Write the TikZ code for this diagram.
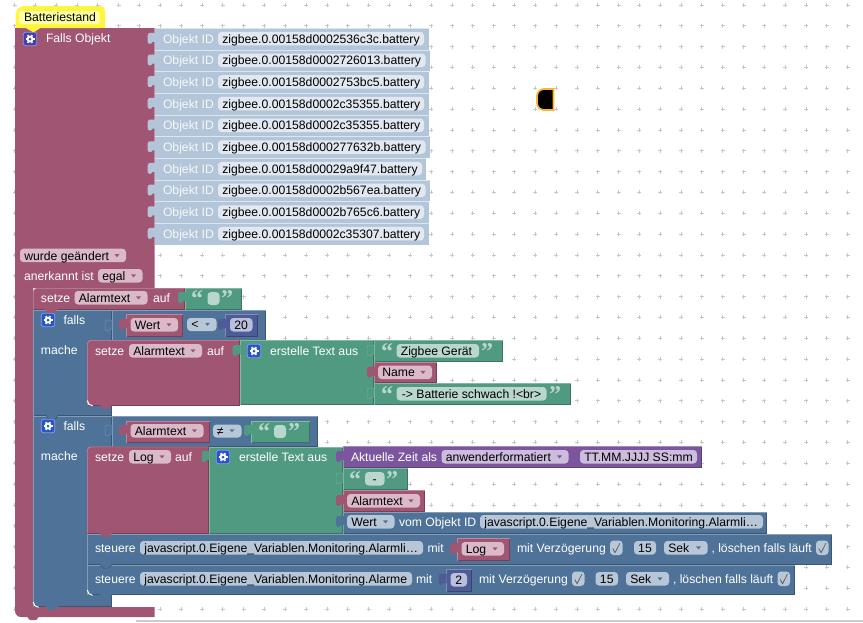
\documentclass[tikz,border=0pt]{standalone}
\usepackage{fontspec}
\setmainfont{Liberation Sans}
\newfontfamily\qfont{Liberation Serif}[BoldFont={* Bold}]
\definecolor{mg}{HTML}{A05573}
\definecolor{mgf}{HTML}{DABAC8}
\definecolor{bl}{HTML}{4F7398}
\definecolor{blf}{HTML}{B8C7D8}
\definecolor{gr}{HTML}{4F9A80}
\definecolor{grf}{HTML}{B9D7CC}
\definecolor{pu}{HTML}{7B569F}
\definecolor{puf}{HTML}{CBBDDB}
\definecolor{nv}{HTML}{4D5C97}
\definecolor{nvf}{HTML}{B9BFDC}
\definecolor{ob}{HTML}{B3C6D9}
\definecolor{obf}{HTML}{E1E8F0}
\definecolor{gearb}{HTML}{2A55C8}
\definecolor{gearp}{HTML}{4440B0}
\definecolor{yel}{HTML}{FFF53C}
\definecolor{yelf}{HTML}{FFFFA6}
\definecolor{stray}{HTML}{FCB731}
\newcommand{\fs}{\fontsize{12.2}{14}\selectfont}
% block: colour x1 y1 x2 y2
\newcommand{\blk}[5]{%
  \fill[#1] (#2,#3) rectangle (#4,#5);
  \draw[#1!75!black,line width=.7pt] (#4-.35,#3) -- (#4-.35,#5-.35) -- (#2,#5-.35);
  \draw[#1!70!white,line width=.7pt] (#2+.35,#5) -- (#2+.35,#3+.35) -- (#4,#3+.35);}
% statement block with rounded top-left corner
\newcommand{\stm}[5]{%
  \fill[#1] (#2,#5) -- (#2,#3+4) arc[start angle=180,end angle=270,radius=4] -- (#4,#3) -- (#4,#5) -- cycle;
  \draw[#1!75!black,line width=.7pt] (#4-.35,#3) -- (#4-.35,#5-.35) -- (#2,#5-.35);
  \draw[#1!70!white,line width=.7pt] (#2+.35,#5) -- (#2+.35,#3+4) arc[start angle=180,end angle=270,radius=3.65] -- (#4,#3+.35);}
\newcommand{\lbl}[3]{\node[txt,white,anchor=base west] at (#1,#2+4.3) {#3};}
\newcommand{\fld}[5]{%
  \fill[#1,rounded corners=3.5pt] (#2,#4-7) rectangle (#3,#4+6.5);
  \node[txt,black,anchor=base west] at (#2+4.3,#4+4.3) {#5};}
\newcommand{\cfld}[5]{%
  \fill[#1,rounded corners=3.5pt] (#2,#4-7) rectangle (#3,#4+6.5);
  \node[txt,black,anchor=base] at ({(#2+#3)/2},#4+4.3) {#5};}
\newcommand{\ddf}[6]{%
  \fld{#1}{#3}{#4}{#5}{#6}
  \fill[#2] (#4-11.5,#5-1.6) -- (#4-6.5,#5-1.6) -- (#4-9,#5+1.4) -- cycle;}
\newcommand{\tabn}[3]{%
  \fill[#1] (#2+1,#3-6) -- (#2-1.5,#3-6) .. controls (#2-3,#3-6.5) and (#2-7,#3-6.5) .. (#2-7,#3-3)
    -- (#2-7,#3+2) .. controls (#2-7,#3+5.5) and (#2-3,#3+6) .. (#2-2,#3+3) -- (#2+1,#3+3) -- cycle;}
\newcommand{\tabo}[3]{%
  \draw[#1!80!white,line width=.5pt,fill=#1] (#2,#3-6) -- (#2-1.5,#3-6) .. controls (#2-3,#3-6.5) and (#2-7,#3-6.5) .. (#2-7,#3-3)
    -- (#2-7,#3+2) .. controls (#2-7,#3+5.5) and (#2-3,#3+6) .. (#2-2,#3+3) -- (#2,#3+3);}
\newcommand{\nub}[3]{%
  \fill[#1] (#2-7,#3-.7) .. controls (#2-5,#3-.7) and (#2-5,#3+3.5) .. (#2-2.5,#3+3.5) -- (#2+2.5,#3+3.5) .. controls (#2+5,#3+3.5) and (#2+5,#3-.7) .. (#2+7,#3-.7) -- cycle;}
\newcommand{\nubl}[3]{%
  \draw[#1!75!black,line width=.5pt,fill=#1] (#2-7,#3-.7) .. controls (#2-5,#3-.7) and (#2-5,#3+3.5) .. (#2-2.5,#3+3.5) -- (#2+2.5,#3+3.5) .. controls (#2+5,#3+3.5) and (#2+5,#3-.7) .. (#2+7,#3-.7);}
\newcommand{\gearic}[4][gearb]{%
  \draw[#2!55!white,line width=.7pt,fill=#1,rounded corners=2.5pt] (#3-6.8,#4-6.8) rectangle (#3+6.8,#4+6.8);
  \foreach \a in {0,60,...,300} {\draw[white,line width=1.5pt] (#3,#4) ++(\a:2.5) -- ++(\a:2);}
  \fill[white] (#3,#4) circle[radius=3.5];
  \fill[#1] (#3,#4) circle[radius=1.5];}
\newcommand{\chk}[2]{%
  \fill[blf,rounded corners=3.5pt] (#1,#2-7.5) rectangle (#1+12.5,#2+7);
  \draw[black!70,line width=.6pt] (#1+2.8,#2+.5) -- (#1+5,#2+4.8) -- (#1+10,#2-5);}
\newcommand{\qo}[3]{\node[qt,#1,anchor=base west] at (#2,#3+8.5) {“};}
\newcommand{\qc}[3]{\node[qt,#1,anchor=base west] at (#2,#3+8.5) {”};}
\newcommand{\innr}[2]{\draw[white,line width=1pt] (#1+.3,#2-5) arc[start angle=180,end angle=90,radius=5.3];}
\tikzset{
  txt/.style={inner sep=0pt,outer sep=0pt,font=\fs},
  qt/.style={inner sep=0pt,outer sep=0pt,font=\qfont\bfseries\fontsize{24}{24}\selectfont},
  gridmark/.style={draw=black!22,line width=.8pt}
}
\begin{document}
\begin{tikzpicture}[x=1pt,y=-1pt]
\useasboundingbox (0,0) rectangle (863,622);
\fill[white] (0,0) rectangle (863,622);
% grid
\foreach \i in {0,...,41} \foreach \j in {0,...,29} {
  \draw[gridmark] ({14.5+20.83*\i-2},{5+20.83*\j}) -- ++(4,0) ({14.5+20.83*\i},{5+20.83*\j-2}) -- ++(0,4);
}
\fill[black!20] (136,620) rectangle (863,622);
% main block
\fill[mg] (15,28) -- (154.5,28) -- (154.5,288) -- (33,288) -- (33,607) -- (154.5,607) -- (154.5,617) -- (21,617) arc[start angle=90,end angle=180,radius=6] -- cycle;
\nub{mg}{33}{616.5}
% hat
\fill[yel,rounded corners=5pt] (15.5,28) -- (15.5,12) -- (20,6) -- (105,6) -- (105,28) -- cycle;
\fill[yel] (15.5,24) rectangle (105,28);
\fill[yel] (25,27.5) -- (41,27.5) -- (33.5,32.5) -- cycle;
\fill[yelf,rounded corners=3pt] (19,11) rectangle (100,24);
\node[txt,black,anchor=base west] at (24,21.6) {Batteriestand};
\gearic[gearp]{gearp}{30}{39}
\lbl{46}{38.5}{Falls Objekt}
% object rows
\foreach \k/\xr/\xf/\t in {%
 0/429/424/zigbee.0.00158d0002536c3c.battery,
 1/430/425.5/zigbee.0.00158d0002726013.battery,
 2/429/424/zigbee.0.00158d0002753bc5.battery,
 3/429/424/zigbee.0.00158d0002c35355.battery,
 4/429/424/zigbee.0.00158d0002c35355.battery,
 5/430/425.5/zigbee.0.00158d000277632b.battery,
 6/426/422/zigbee.0.00158d00029a9f47.battery,
 7/430/425.5/zigbee.0.00158d0002b567ea.battery,
 8/429/424/zigbee.0.00158d0002b765c6.battery,
 9/429/424/zigbee.0.00158d0002c35307.battery} {
  \pgfmathsetmacro{\yt}{28+21.67*\k}
  \pgfmathsetmacro{\yb}{\yt+21.67}
  \pgfmathsetmacro{\yc}{\yt+10.9}
  \fill[ob] (154.5,\yt) rectangle (\xr,\yb);
  \draw[white!55!ob,line width=.6pt] (154.5,\yt+.3) -- (\xr,\yt+.3);
  \tabn{ob}{154.5}{\yc}
  \node[txt,white!88!ob,anchor=base west] at (163,\yc+4.3) {Objekt ID};
  \fill[obf,rounded corners=3.5pt] (218,\yc-7) rectangle (\xf,\yc+6.5);
  \node[txt,black,anchor=base west] at (222.3,\yc+4.3) {\t};
}
% triggers
\ddf{mgf}{mg}{20}{126}{255.7}{wurde geändert}
\lbl{24}{276}{anerkannt ist}
\ddf{mgf}{mg}{98}{142.5}{276}{egal}
% setze Alarmtext (first)
\stm{mg}{33}{288}{185}{310}
\lbl{41}{298}{setze}
\ddf{mgf}{mg}{74.5}{147.5}{298}{Alarmtext}
\lbl{153}{298}{auf}
\blk{gr}{185}{288}{242}{310}
\tabn{gr}{185}{298}
\qo{grf}{191}{298}
\fill[grf,rounded corners=3.5pt] (207.5,292) rectangle (219.5,305);
\qc{grf}{221}{298}
% falls 1
\blk{bl}{33}{310}{112}{415.5}
\nub{mg}{51}{309.7}
\gearic{gearb}{48}{320}
\lbl{63.5}{320}{falls}
\lbl{41}{350}{mache}
\blk{bl}{112}{310}{266}{340.5}
\tabo{bl}{112}{326}
\blk{mg}{126}{314}{183}{336.5}
\tabn{mg}{126}{325}
\ddf{mgf}{mg}{130.5}{178}{325}{Wert}
\fill[blf,rounded corners=3.5pt] (187,318) rectangle (216.5,331);
\node[txt,black,anchor=base] at (195,328.6) {<};
\fill[bl] (205,322.8) -- (210,322.8) -- (207.5,325.8) -- cycle;
\blk{nv}{225}{314}{257.5}{336.5}
\tabn{nv}{225}{325}
\cfld{nvf}{230}{252.5}{325}{20}
% setze Alarmtext 2
\stm{mg}{87}{340}{239.5}{405.5}
\innr{87}{405.5}
\nub{mg}{106}{405}
\lbl{95}{351}{setze}
\ddf{mgf}{mg}{129}{202}{351}{Alarmtext}
\lbl{207}{351}{auf}
\blk{gr}{239.5}{340}{374}{404.5}
\tabn{gr}{239.5}{351}
\gearic{gearb}{254}{351}
\lbl{270}{351}{erstelle Text aus}
\blk{gr}{374}{340}{503}{362}
\tabo{gr}{374}{351}
\qo{grf}{381}{351}
\fld{grf}{396.5}{479}{351}{Zigbee Gerät}
\qc{grf}{481}{351}
\blk{mg}{374}{362}{437}{383}
\tabn{mg}{374}{372.5}
\ddf{mgf}{mg}{378}{432}{372.5}{Name}
\blk{gr}{374}{383}{571}{404.5}
\tabo{gr}{374}{394}
\qo{grf}{381}{394}
\cfld{grf}{396.5}{546.5}{394}{-> Batterie schwach !<br>}
\qc{grf}{549}{394}
% falls 2
\blk{bl}{33}{415.5}{112}{606.5}
\nubl{bl}{52}{415.5}
\innr{33}{607}
\nub{bl}{52}{606.5}
\gearic{gearb}{48}{426}
\lbl{63.5}{426}{falls}
\lbl{41}{456}{mache}
\blk{bl}{112}{415.5}{318}{446.5}
\tabo{bl}{112}{431}
\blk{mg}{126}{420.5}{209.5}{443}
\tabn{mg}{126}{431}
\ddf{mgf}{mg}{130.5}{203.5}{431}{Alarmtext}
\fill[blf,rounded corners=3.5pt] (213,424.5) rectangle (241.5,437.5);
\node[txt,black,anchor=base] at (220.3,435) {≠};
\fill[bl] (229.5,429.3) -- (234.5,429.3) -- (232,432.3) -- cycle;
\blk{gr}{251}{421}{310}{443}
\tabn{gr}{251}{431}
\qo{grf}{258}{431}
\fill[grf,rounded corners=3.5pt] (274,425) rectangle (286,438);
\qc{grf}{288}{431}
% setze Log
\stm{mg}{87}{446.5}{208.5}{533.5}
\lbl{95}{457}{setze}
\ddf{mgf}{mg}{129}{171}{457}{Log}
\lbl{175}{457}{auf}
\blk{gr}{208.5}{446.5}{343}{533.5}
\tabn{gr}{208.5}{457}
\gearic{gearb}{223}{457}
\lbl{239}{457}{erstelle Text aus}
% inner text inputs
\blk{pu}{343}{446}{702}{468}
\tabn{pu}{343}{457}
\lbl{351}{457}{Aktuelle Zeit als}
\ddf{puf}{pu}{441.5}{568.5}{457}{anwenderformatiert}
\cfld{puf}{580}{697}{457}{TT.MM.JJJJ SS:mm}
\blk{gr}{343}{468}{408}{490}
\tabo{gr}{343}{479}
\qo{grf}{349}{479}
\cfld{grf}{365}{384.5}{479}{-}
\qc{grf}{386}{479}
\blk{mg}{343}{490}{425}{511.5}
\tabn{mg}{343}{501}
\ddf{mgf}{mg}{347}{420}{501}{Alarmtext}
\blk{bl}{343}{511.5}{767}{533.5}
\tabn{bl}{343}{522}
\ddf{blf}{bl}{347}{394.5}{522}{Wert}
\lbl{399}{522}{vom Objekt ID}
\fld{blf}{480}{763}{522}{javascript.0.Eigene\_Variablen.Monitoring.Alarmli…}
% steuere 1
\blk{bl}{87}{533.5}{832}{564.5}
\nub{mg}{106}{533.5}
\lbl{95}{548}{steuere}
\fld{blf}{140}{423}{548}{javascript.0.Eigene\_Variablen.Monitoring.Alarmli…}
\lbl{427.5}{548}{mit}
\blk{mg}{457}{538}{509.5}{560.5}
\tabn{mg}{457}{549}
\ddf{mgf}{mg}{461.5}{504}{549}{Log}
\lbl{517}{548}{mit Verzögerung}
\chk{610}{548}
\cfld{blf}{634}{656}{548}{15}
\ddf{blf}{bl}{664}{707.5}{548}{Sek}
\lbl{711.5}{548}{, löschen falls läuft}
\chk{816}{548}
% steuere 2
\blk{bl}{87}{564.5}{794.5}{595}
\nubl{bl}{106}{564.5}
\innr{87}{595}
\nub{bl}{106}{594.7}
\lbl{95}{579}{steuere}
\fld{blf}{140}{412}{579}{javascript.0.Eigene\_Variablen.Monitoring.Alarme}
\lbl{416}{579}{mit}
\blk{nv}{445.5}{569}{472}{592}
\tabn{nv}{445.5}{580}
\cfld{nvf}{450.5}{467}{580}{2}
\lbl{479}{579}{mit Verzögerung}
\chk{572}{579}
\cfld{blf}{595.5}{618}{579}{15}
\ddf{blf}{bl}{626}{669}{579}{Sek}
\lbl{673}{579}{, löschen falls läuft}
\chk{777.5}{579}
% stray block
\draw[stray,line width=1.8pt,fill=black] (553.5,89) -- (544,89) arc[start angle=270,end angle=180,radius=7] -- (537,103) arc[start angle=180,end angle=90,radius=7] -- (553.5,110) -- cycle;
\end{tikzpicture}
\end{document}
